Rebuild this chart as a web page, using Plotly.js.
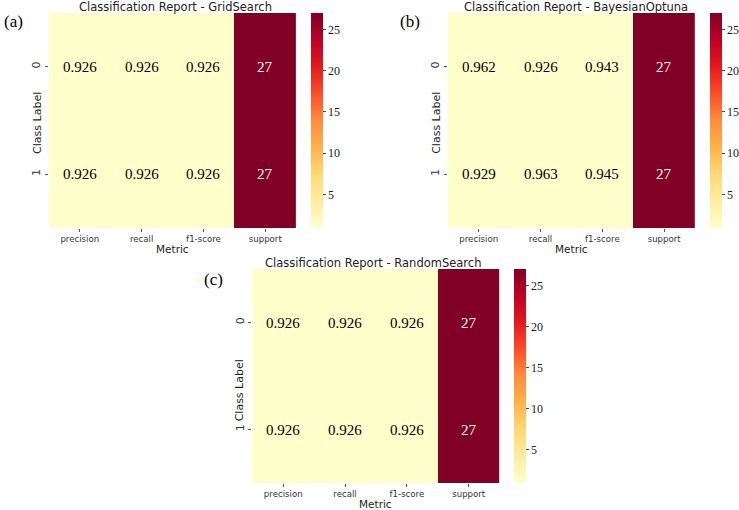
<!DOCTYPE html>
<html>
<head>
<meta charset="utf-8">
<script src="https://cdn.plot.ly/plotly-3.0.1.min.js"></script>
<style>
  html, body { margin: 0; padding: 0; background: #fff; }
  #chart { width: 739px; height: 510px; }
</style>
</head>
<body>
<div id="chart"></div>
<script>
// Classification report values per tuning method
const metrics = ['precision', 'recall', 'f1-score', 'support'];
const classLabels = ['0', '1'];

const gridSearch = [
  [0.926, 0.926, 0.926, 27],
  [0.926, 0.926, 0.926, 27]
];
const bayesianOptuna = [
  [0.962, 0.926, 0.943, 27],
  [0.929, 0.963, 0.945, 27]
];
const randomSearch = [
  [0.926, 0.926, 0.926, 27],
  [0.926, 0.926, 0.926, 27]
];

const panelTitles = [
  'Classification Report - GridSearch',
  'Classification Report - BayesianOptuna',
  'Classification Report - RandomSearch'
];
const panelTags = ['(a)', '(b)', '(c)'];
const colorbarTicks = [5, 10, 15, 20, 25];

// YlOrRd sequential colormap
const ylOrRd = [
  [0.000, '#ffffcc'], [0.125, '#ffeda0'], [0.250, '#fed976'],
  [0.375, '#feb24c'], [0.500, '#fd8d3c'], [0.625, '#fc4e2a'],
  [0.750, '#e31a1c'], [0.875, '#bd0026'], [1.000, '#800026']
];

const W = 739, H = 510;
const px = v => v / W;
const py = v => 1 - v / H;

// Pixel boxes for each heatmap: [left, right, top, bottom], colorbar left edge
const boxes = [
  { l: 49,  r: 297, t: 13,  b: 228, cb: 312, tag: [2, 22],   title: 176, lbl: 37,  lblY: 123 },
  { l: 449, r: 697, t: 13,  b: 228, cb: 712, tag: [399, 22], title: 578, lbl: 437, lblY: 123 },
  { l: 253, r: 501, t: 269, b: 483, cb: 515, tag: [203, 279], title: 374, lbl: 240, lblY: 390 }
];

const datasets = [gridSearch, bayesianOptuna, randomSearch];
const sans = 'DejaVu Sans, sans-serif';
const serif = 'Liberation Serif, Times New Roman, serif';

const traces = [];
const annotations = [];
const layout = {
  width: W, height: H,
  margin: { l: 0, r: 0, t: 0, b: 0 },
  paper_bgcolor: '#ffffff',
  plot_bgcolor: '#ffffff',
  showlegend: false,
  annotations: annotations
};

datasets.forEach((z, i) => {
  const b = boxes[i];
  const n = i === 0 ? '' : String(i + 1);
  const flat = z.flat();
  const zmin = Math.min(...flat);
  const zmax = Math.max(...flat);

  traces.push({
    type: 'heatmap',
    z: z,
    x: metrics,
    y: classLabels,
    xaxis: 'x' + n,
    yaxis: 'y' + n,
    zmin: zmin,
    zmax: zmax,
    colorscale: ylOrRd,
    hoverinfo: 'skip',
    colorbar: {
      x: px(b.cb), xanchor: 'left', xpad: 0,
      y: py(b.t), yanchor: 'top', ypad: 0,
      len: (b.b - b.t) / H, lenmode: 'fraction',
      thickness: 12,
      outlinewidth: 0,
      ticks: 'outside', ticklen: 3, tickcolor: '#444',
      tickvals: colorbarTicks,
      tickfont: { family: serif, size: 12, color: '#1a1a1a' }
    }
  });

  layout['xaxis' + n] = {
    domain: [px(b.l), px(b.r)],
    anchor: 'y' + n,
    type: 'category',
    showgrid: false, zeroline: false, showline: false,
    ticks: 'outside', ticklen: 3, tickcolor: '#555',
    tickfont: { family: sans, size: 8.6, color: '#333' }
  };
  layout['yaxis' + n] = {
    domain: [py(b.b), py(b.t)],
    anchor: 'x' + n,
    type: 'category',
    autorange: 'reversed',
    showgrid: false, zeroline: false, showline: false,
    ticks: 'outside', ticklen: 3, tickcolor: '#555',
    tickangle: -90,
    tickfont: { family: sans, size: 11, color: '#333' }
  };

  // Cell values
  z.forEach((row, r) => {
    row.forEach((v, c) => {
      const dark = (v - zmin) / (zmax - zmin) > 0.6;
      annotations.push({
        xref: 'x' + n, yref: 'y' + n,
        x: metrics[c], y: classLabels[r],
        text: Number.isInteger(v) ? String(v) : v.toFixed(3),
        showarrow: false,
        font: { family: serif, size: 15, color: dark ? '#ffffff' : '#000000' }
      });
    });
  });

  // Panel title
  annotations.push({
    xref: 'paper', yref: 'paper',
    x: px(b.title), y: py(b.t - 6),
    xanchor: 'center', yanchor: 'middle',
    text: panelTitles[i], showarrow: false,
    font: { family: sans, size: 11.5, color: '#222' }
  });
  // Axis labels
  annotations.push({
    xref: 'paper', yref: 'paper',
    x: px((b.l + b.r) / 2), y: py(b.b + 21),
    xanchor: 'center', yanchor: 'middle',
    text: 'Metric', showarrow: false,
    font: { family: sans, size: 10.5, color: '#222' }
  });
  annotations.push({
    xref: 'paper', yref: 'paper',
    x: px(b.lbl), y: py(b.lblY),
    xanchor: 'center', yanchor: 'middle',
    text: 'Class Label', textangle: -90, showarrow: false,
    font: { family: sans, size: 11, color: '#222' }
  });
  // Panel tag
  annotations.push({
    xref: 'paper', yref: 'paper',
    x: px(b.tag[0]), y: py(b.tag[1]),
    xanchor: 'left', yanchor: 'middle',
    text: panelTags[i], showarrow: false,
    font: { family: serif, size: 17, color: '#000' }
  });
});

Plotly.newPlot('chart', traces, layout, { displayModeBar: false, staticPlot: true });
</script>
</body>
</html>
